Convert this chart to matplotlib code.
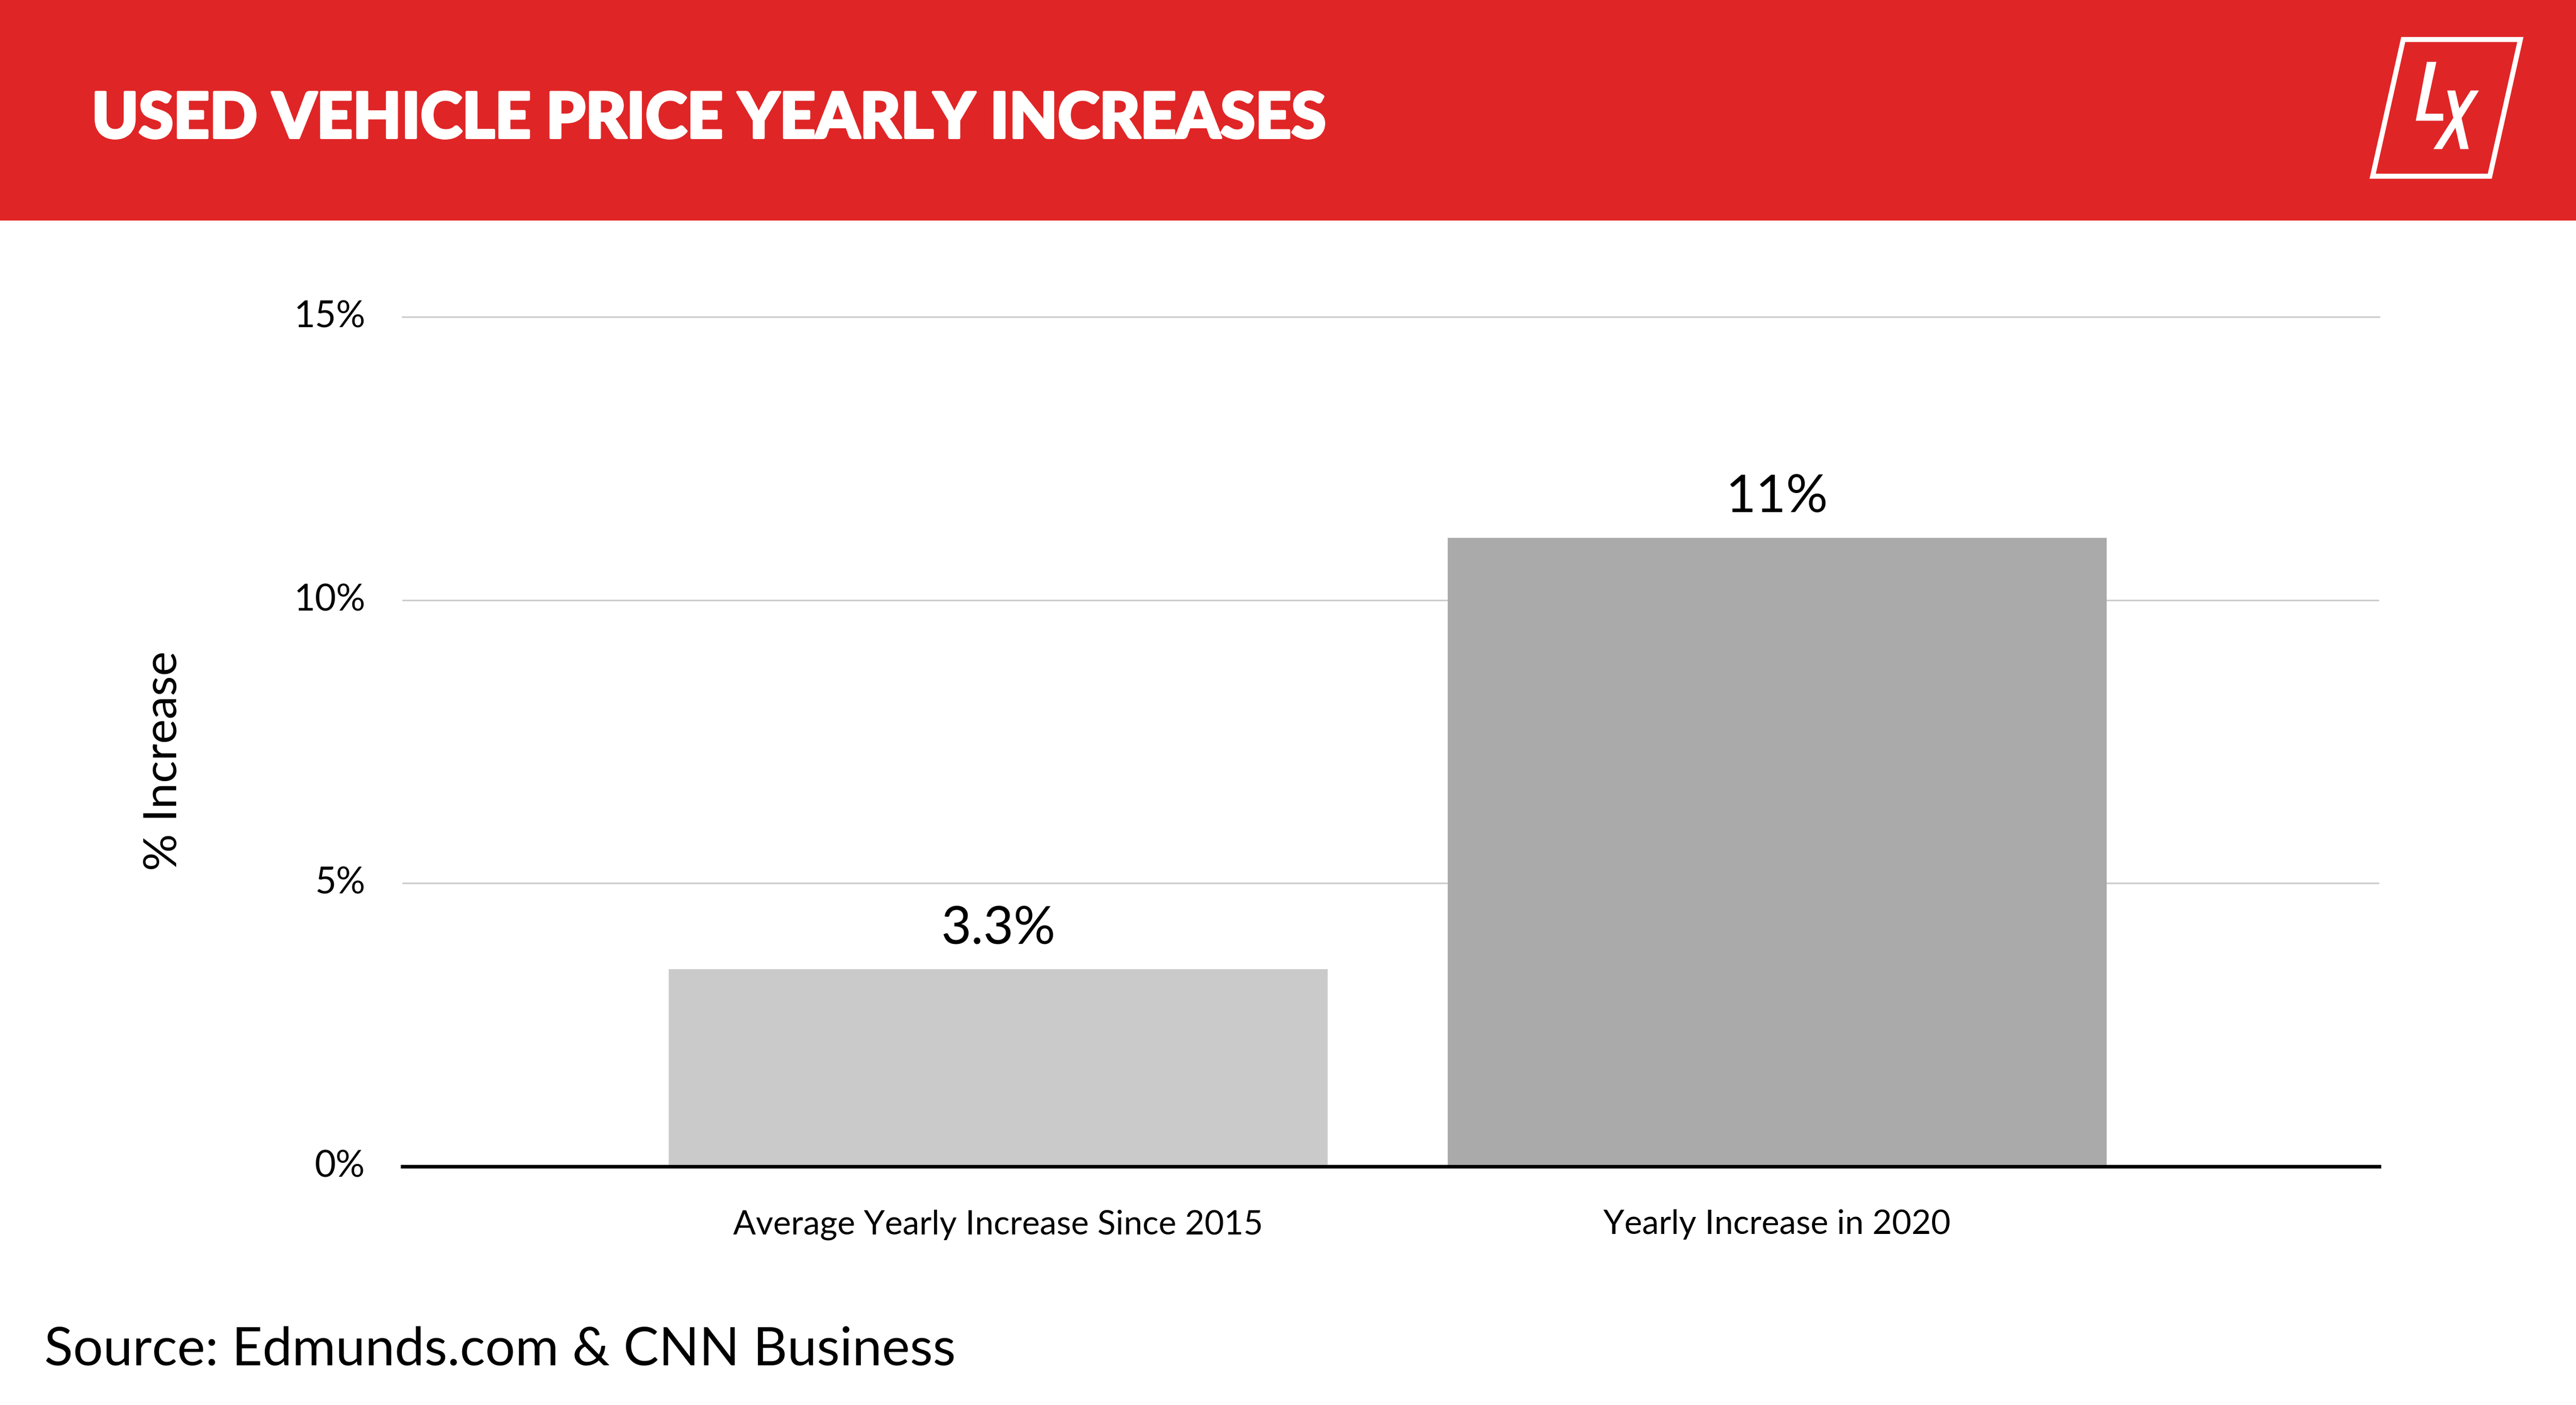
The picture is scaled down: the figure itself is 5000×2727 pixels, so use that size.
import matplotlib
matplotlib.use("Agg")
import matplotlib.pyplot as plt
from matplotlib.patches import Rectangle, Polygon
import matplotlib.patheffects as pe

# ---- data ----
categories = ["Average Yearly Increase Since 2015", "Yearly Increase in 2020"]
values = [3.48, 11.1]
value_labels = ["3.3%", "11%"]
bar_colors = ["#cacaca", "#aaaaaa"]
yticks = [0, 5, 10, 15]
ytick_labels = ["0%", "5%", "10%", "15%"]
title = "USED VEHICLE PRICE YEARLY INCREASES"
ylabel = "% Increase"
source = "Source: Edmunds.com & CNN Business"

W, H = 5000, 2727
FONT = "Lato"
fig = plt.figure(figsize=(W / 100, H / 100), dpi=100)
fig.patch.set_facecolor("white")

# header band
fig.patches.append(Rectangle((0, 1 - 428 / H), 1, 428 / H, transform=fig.transFigure,
                             facecolor="#e02526", edgecolor="none", zorder=0))
fig.text(178 / W, 1 - 232 / H, title, color="white", fontsize=88, fontweight="black",
         family=FONT, va="center", ha="left",
         path_effects=[pe.withStroke(linewidth=3.5, foreground="white")])

# logo (parallelogram + L X)
def P(ox, oy):
    return ((4500 + ox / 3) / W, 1 - (oy / 3) / H)

frame = [P(494, 230), P(1176, 230), P(998, 1026), P(316, 1026)]
fig.patches.append(Polygon(frame, closed=True, transform=fig.transFigure, fill=False,
                           edgecolor="white", linewidth=7, joinstyle="miter", zorder=2))
L_shape = [P(632, 360), P(687, 360), P(622, 662), P(727, 662), P(727, 703), P(567, 703)]
X1 = [P(750, 527), P(797, 527), P(875, 868), P(826, 868)]
X2 = [P(887, 527), P(935, 527), P(720, 868), P(670, 868)]
for shp in (L_shape, X1, X2):
    fig.patches.append(Polygon(shp, closed=True, transform=fig.transFigure,
                               facecolor="white", edgecolor="none", zorder=2))

# axes
left, right = 781 / W, 4618 / W
bottom, top = 1 - 2264 / H, 1 - 615 / H
ax = fig.add_axes([left, bottom, right - left, top - bottom])
x = list(range(len(categories)))
ax.bar(x, values, width=0.846, color=bar_colors, zorder=2)
ax.set_xlim(-0.765, 1.773)
ax.set_ylim(0, 15)
ax.set_yticks(yticks)
ax.set_yticklabels(ytick_labels, family=FONT, fontsize=51)
ax.set_xticks(x)
ax.set_xticklabels(categories, family=FONT, fontsize=47)
ax.tick_params(axis="y", length=0, pad=52)
ax.tick_params(axis="x", length=0, pad=60)
for t in ax.get_yticklabels():
    t.set_verticalalignment("center")
ax.grid(axis="y", color="#cccccc", linewidth=2.2, zorder=0)
ax.set_axisbelow(True)
for s in ["top", "right", "left"]:
    ax.spines[s].set_visible(False)
ax.spines["bottom"].set_linewidth(5)
ax.spines["bottom"].set_color("black")
ax.spines["bottom"].set_zorder(3)
ax.yaxis.get_gridlines()[-1].set_clip_on(False)

for xi, v, lab in zip(x, values, value_labels):
    ax.annotate(lab, (xi, v), xytext=(0, 24), textcoords="offset points",
                ha="center", va="bottom", family=FONT, fontsize=73, color="black")

fig.text(319 / W, 1 - 1477 / H, ylabel, rotation=90, family=FONT, fontsize=65,
         va="center", ha="center")
fig.text(86 / W, 1 - 2621 / H, source, family=FONT, fontsize=74, va="center", ha="left")

fig.savefig("out.png", dpi=100)
